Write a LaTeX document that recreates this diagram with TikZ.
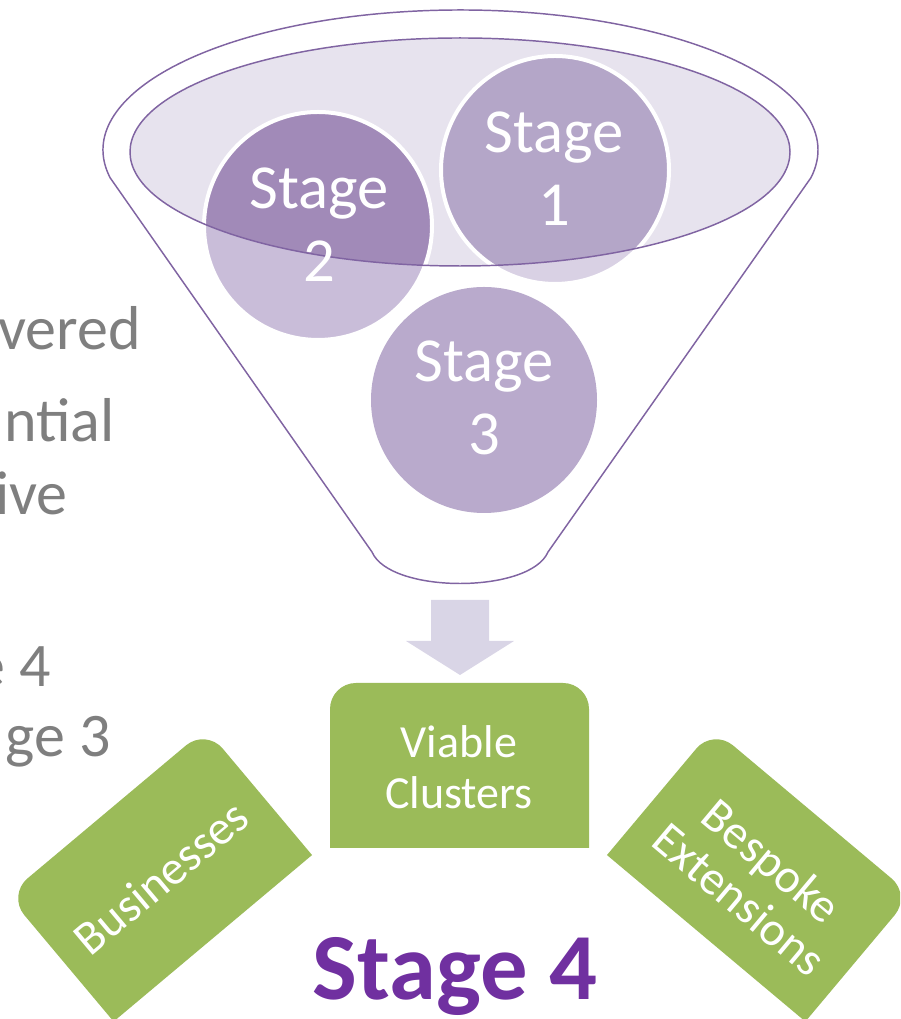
\documentclass[tikz,border=0pt]{standalone}
\usepackage{fontspec}
\setmainfont{Carlito}
\definecolor{funnelc}{HTML}{8064A2}
\definecolor{ellfill}{HTML}{E7E3EE}
\definecolor{sonein}{HTML}{B4A6C8}
\definecolor{soneout}{HTML}{D9D1E4}
\definecolor{stwoin}{HTML}{A18AB8}
\definecolor{stwoout}{HTML}{C9BDD9}
\definecolor{sthree}{HTML}{B9AACC}
\definecolor{arrowc}{HTML}{D9D5E6}
\definecolor{greenc}{HTML}{9BBB59}
\definecolor{purplec}{HTML}{7030A0}
\definecolor{greyc}{HTML}{7F7F7F}
\begin{document}
\begin{tikzpicture}[x=0.75pt,y=0.75pt,
  funnelline/.style={draw=funnelc, line width=1.1pt},
  ringline/.style={circle, draw=white, line width=3pt, minimum size=171pt, inner sep=0pt},
  stagetext/.style={text=white, align=center, font=\fontsize{47}{55}\selectfont, inner sep=0pt},
  greybit/.style={text=greyc, anchor=base east, font=\fontsize{46.5}{50}\selectfont, inner sep=0pt},
  boxtext/.style={text=white, align=center, inner sep=0pt},
  pics/greentab/.style={code={
    \fill[greenc] (-129.5,-82.5) -- (-129.5,56.5) arc[start angle=180,end angle=90,radius=26]
      -- (103.5,82.5) arc[start angle=90,end angle=0,radius=26] -- (129.5,-82.5) -- cycle;}}
]
\useasboundingbox (0,0) rectangle (900,1019);
\clip (0,0) rectangle (900,1019);

% left grey text fragments
\node[greybit] (g1) at (141,669) {vered};
\node[greybit] (g2) at (115,577) {ntial};
\node[greybit] (g3) at (68,504) {ive};
\node[greybit] (g4) at (51,332) {e 4};
\node[greybit] (g5) at (111,262) {ge 3};

% funnel outer
\path[funnelline, fill=white] (110.2,841.1)
  arc[start angle=191.5, end angle=-11.5, x radius=357.5, y radius=140]
  -- (548,467) .. controls (530,425) and (390,425) .. (372,467) -- cycle;

% inner ellipse fill
\fill[ellfill] (460,867) ellipse[x radius=330, y radius=114];

% circles (outside colours)
\fill[soneout] (555,849) circle[radius=114];
\fill[stwoout] (318,793) circle[radius=114];
\fill[sthree] (484,619) circle[radius=113];
% inside-ellipse parts
\begin{scope}
  \clip (460,867) ellipse[x radius=330, y radius=114];
  \fill[sonein] (555,849) circle[radius=114];
  \fill[stwoin] (318,793) circle[radius=114];
\end{scope}
% white rings
\node[ringline] (c1) at (555,849) {};
\node[ringline] (c2) at (318,793) {};
\node[ringline, draw=none] (c3) at (484,619) {};

% ellipse outline
\draw[funnelline] (460,867) ellipse[x radius=330, y radius=114];

% stage texts
\node[stagetext] (t1) at (554,850) {Stage\\1};
\node[stagetext] (t2) at (319,794) {Stage\\2};
\node[stagetext] (t3) at (484,621) {Stage\\3};

% block arrow
\fill[arrowc] (431,419) -- (489,419) -- (489,378) -- (514,378) -- (460,344)
  -- (406,378) -- (431,378) -- cycle;

% green boxes
\pic at (459.5,253.5) {greentab};
\pic[rotate=40] at (159.8,143.9) {greentab};
\pic[rotate=-40] at (759.2,143.9) {greentab};

\node[boxtext, font=\fontsize{34.5}{38.5}\selectfont] (viable) at (459,251.5) {Viable\\Clusters};
\node[boxtext, rotate=40, font=\fontsize{36}{38}\selectfont] (bus) at (161,141.5) {Businesses};
\node[boxtext, rotate=-40, font=\fontsize{36}{37.5}\selectfont] (besp) at (756,139) {Bespoke\\Extensions};

% Stage 4
\node[anchor=base, text=purplec, font=\fontsize{71}{80}\selectfont\bfseries, inner sep=0pt] (s4) at (455,19) {Stage 4};
\end{tikzpicture}
\end{document}
